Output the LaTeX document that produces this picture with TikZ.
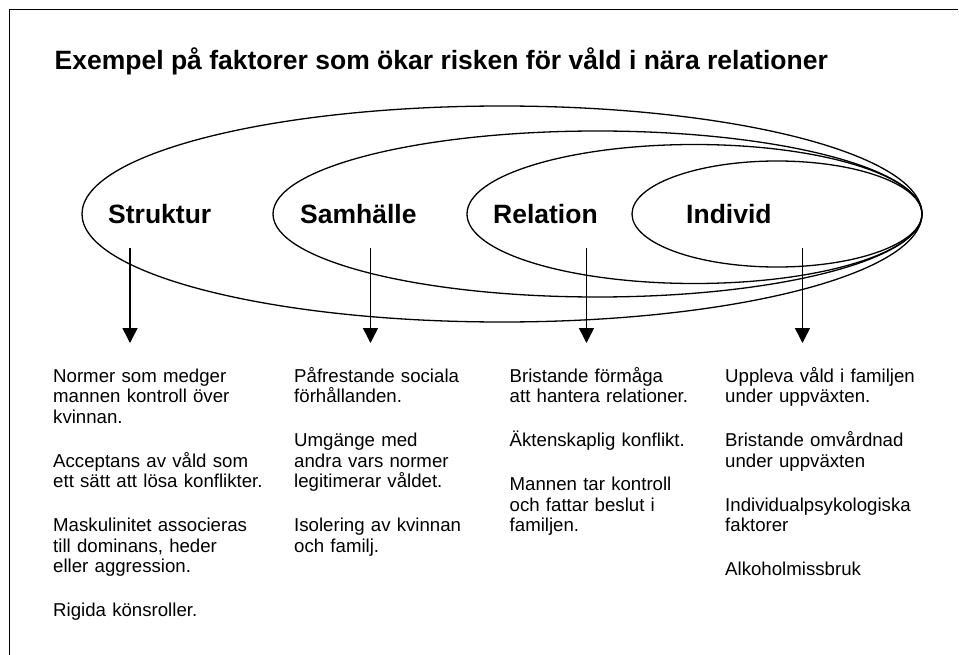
\documentclass[tikz,border=0pt]{standalone}
\usepackage{fontspec}
\setmainfont{Liberation Sans}
\usetikzlibrary{arrows.meta}
\newcommand\mycolfont{\fontsize{18.65}{20.5}\selectfont\lineskiplimit=-30pt\relax\lineskip=0pt\relax}
\begin{document}
\begin{tikzpicture}[x=1pt,y=-1pt,
  frameline/.style={line width=1.3pt},
  ring/.style={line width=1.3pt},
  lbl/.style={font=\fontsize{26.5}{30}\selectfont\bfseries, inner sep=0pt, anchor=base west},
  col/.style={font=\mycolfont, inner sep=0pt, anchor=base west, text width=230pt, align=left},
  arr/.style={line width=1.5pt, -{Triangle[length=15pt,width=15pt]}}]
\useasboundingbox (0,0) rectangle (959,655);
\draw[frameline] (9.5,655) -- (9.5,9.5) -- (958,9.5);

\node[lbl] (title) at (54.5,70) {Exempel på faktorer som ökar risken för våld i nära relationer};

\draw[ring] (502,214) ellipse [x radius=420pt, y radius=108pt];
\draw[ring] (597.5,214) ellipse [x radius=324.5pt, y radius=83pt];
\draw[ring] (694.5,214) ellipse [x radius=227.5pt, y radius=69.5pt];
\draw[ring] (777,214) ellipse [x radius=145pt, y radius=53pt];

\node[lbl] (struktur) at (108,223.3) {Struktur};
\node[lbl] (samhalle) at (300,223.3) {Samhälle};
\node[lbl] (relation) at (493,223.3) {Relation};
\node[lbl] (individ) at (686,223.3) {Individ};

\coordinate (s1) at (130,248);  \coordinate (e1) at (130,343);
\coordinate (s2) at (370.5,248);\coordinate (e2) at (370.5,343);
\coordinate (s3) at (586.5,248);\coordinate (e3) at (586.5,343);
\coordinate (s4) at (802.5,248);\coordinate (e4) at (802.5,343);
\draw[arr] (s1) -- (e1);
\draw[arr] (s2) -- (e2);
\draw[arr] (s3) -- (e3);
\draw[arr] (s4) -- (e4);

\node[col] (c1) at (53,382) {Normer som medger\\ mannen kontroll över\\ kvinnan.\\[23.5pt]
Acceptans av våld som\\ ett sätt att lösa konflikter.\\[23.5pt]
Maskulinitet associeras\\ till dominans, heder\\ eller aggression.\\[23.5pt]
Rigida könsroller.};

\node[col] (c2) at (294,382) {Påfrestande sociala\\ förhållanden.\\[23.5pt]
Umgänge med\\ andra vars normer\\ legitimerar våldet.\\[23.5pt]
Isolering av kvinnan\\ och familj.};

\node[col] (c3) at (509.5,382) {Bristande förmåga\\ att hantera relationer.\\[23.5pt]
Äktenskaplig konflikt.\\[23.5pt]
Mannen tar kontroll\\ och fattar beslut i\\ familjen.};

\node[col] (c4) at (725,382) {Uppleva våld i familjen\\ under uppväxten.\\[23.5pt]
Bristande omvårdnad\\ under uppväxten\\[23.5pt]
Individualpsykologiska\\ faktorer\\[23.5pt]
Alkoholmissbruk};
\end{tikzpicture}
\end{document}
